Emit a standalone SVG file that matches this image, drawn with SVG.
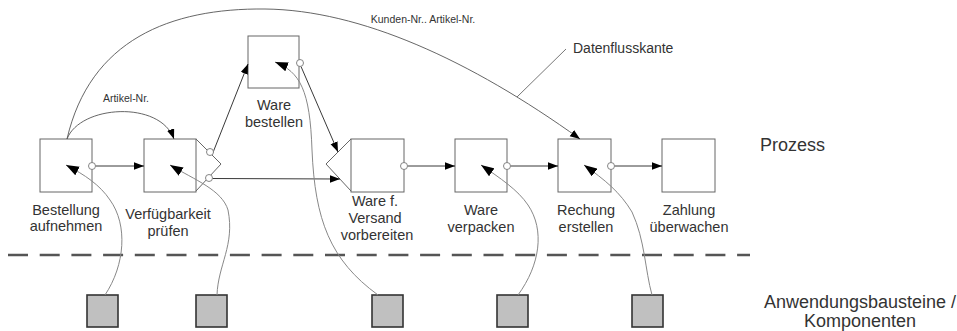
<svg xmlns="http://www.w3.org/2000/svg" width="957" height="331" viewBox="0 0 957 331">
<defs>
<marker id="ah" markerUnits="userSpaceOnUse" markerWidth="11" markerHeight="8" refX="10" refY="3.75" orient="auto">
<path d="M0,0 L10,3.75 L0,7.5 z" fill="#000"/>
</marker>
<marker id="ahBig" markerUnits="userSpaceOnUse" markerWidth="14" markerHeight="10" refX="13" refY="4.75" orient="auto">
<path d="M0,0 L13,4.75 L0,9.5 z" fill="#000"/>
</marker>
<style>
.box{fill:#fff;stroke:#666;stroke-width:1}
.comp{fill:#c0c0c0;stroke:#333;stroke-width:1.6}
.port{fill:#fff;stroke:#777;stroke-width:0.9}
.lbl{font-family:"Liberation Sans",Arial,sans-serif;font-size:14.5px;fill:#333;text-anchor:middle}
.big{font-family:"Liberation Sans",Arial,sans-serif;font-size:18px;fill:#333}
.small{font-family:"Liberation Sans",Arial,sans-serif;font-size:10.5px;fill:#333;text-anchor:middle}
.flow{fill:none;stroke:#222;stroke-width:0.9;marker-end:url(#ah)}
.arc{fill:none;stroke:#555;stroke-width:0.9;marker-end:url(#ah)}
.use{fill:none;stroke:#888;stroke-width:1;marker-end:url(#ahBig)}
</style>
</defs>
<rect width="957" height="331" fill="#fff"/>

<g id="labels">
<text class="small" x="126" y="102">Artikel-Nr.</text>
<text class="small" x="423" y="23">Kunden-Nr.. Artikel-Nr.</text>
<text x="573" y="53" font-family="Liberation Sans, Arial, sans-serif" font-size="14px" fill="#333">Datenflusskante</text>
<text class="big" x="760" y="151">Prozess</text>
<text class="big" x="860" y="308" text-anchor="middle">Anwendungsbausteine /</text>
<text class="big" x="860" y="327" text-anchor="middle">Komponenten</text>
</g>

<line id="separator" x1="8" y1="255" x2="750" y2="255" stroke="#555" stroke-width="2.5" stroke-dasharray="20 11.7"/>

<g id="bestellung-aufnehmen">
<rect class="box" x="40" y="139" width="52" height="53"/>
<text class="lbl" x="66" y="215">Bestellung</text>
<text class="lbl" x="66" y="231">aufnehmen</text>
</g>

<g id="verfuegbarkeit-pruefen">
<rect class="box" x="144" y="139" width="52" height="53"/>
<path d="M196,139 L221,164 L196,191" fill="none" stroke="#666" stroke-width="1"/>
<text class="lbl" x="168" y="219">Verfügbarkeit</text>
<text class="lbl" x="168" y="236">prüfen</text>
</g>

<g id="ware-bestellen">
<rect class="box" x="248" y="36" width="51" height="52"/>
<text class="lbl" x="274" y="110">Ware</text>
<text class="lbl" x="274" y="127">bestellen</text>
</g>

<g id="ware-versand-vorbereiten">
<rect class="box" x="351" y="139" width="53" height="53"/>
<path d="M351,139 L326,164 L351,191" fill="none" stroke="#666" stroke-width="1"/>
<text class="lbl" x="375" y="206">Ware f.</text>
<text class="lbl" x="375" y="223">Versand</text>
<text class="lbl" x="377" y="240">vorbereiten</text>
</g>

<g id="ware-verpacken">
<rect class="box" x="455" y="139" width="52" height="53"/>
<text class="lbl" x="481" y="215">Ware</text>
<text class="lbl" x="481" y="232">verpacken</text>
</g>

<g id="rechung-erstellen">
<rect class="box" x="558" y="139" width="53" height="53"/>
<text class="lbl" x="586" y="215">Rechung</text>
<text class="lbl" x="586" y="232">erstellen</text>
</g>

<g id="zahlung-ueberwachen">
<rect class="box" x="662" y="139" width="53" height="53"/>
<text class="lbl" x="689" y="215">Zahlung</text>
<text class="lbl" x="689" y="232">überwachen</text>
</g>

<g id="komponente-1"><rect class="comp" x="87" y="295" width="31" height="32"/></g>
<g id="komponente-2"><rect class="comp" x="196" y="295" width="31" height="32"/></g>
<g id="komponente-3"><rect class="comp" x="372" y="295" width="31" height="32"/></g>
<g id="komponente-4"><rect class="comp" x="497" y="295" width="31" height="32"/></g>
<g id="komponente-5"><rect class="comp" x="632" y="295" width="31" height="32"/></g>

<g id="connectors">
<path class="arc" d="M67,139 C90,40 170,8 265,9 C360,10 470,60 580,139"/>
<path class="arc" d="M67,139 C80,105 160,100 174,139"/>
<line x1="566" y1="49" x2="517" y2="97" stroke="#777" stroke-width="1"/>
<line class="flow" x1="95.5" y1="166" x2="144" y2="166"/>
<line class="flow" x1="212" y1="155" x2="248" y2="64"/>
<line class="flow" x1="212.5" y1="178.5" x2="340" y2="179"/>
<line class="flow" x1="301" y1="66.5" x2="338" y2="152"/>
<line class="flow" x1="407.5" y1="166" x2="455" y2="166"/>
<line class="flow" x1="510.5" y1="166" x2="558" y2="166"/>
<line class="flow" x1="614.5" y1="166" x2="662" y2="166"/>
<path class="use" d="M105,295 C125,265 128,225 110,200 C100,185 85,175 66,165"/>
<path class="use" d="M217,295 C218,265 235,245 228,210 C222,190 195,180 170,165"/>
<path class="use" d="M378,295 C330,260 315,220 312,150 C310,90 300,72 275,62"/>
<path class="use" d="M518,295 C540,265 545,230 528,205 C518,190 500,178 481,165"/>
<path class="use" d="M652,295 C645,270 645,240 632,212 C620,192 605,180 584,165"/>
<circle class="port" cx="92" cy="166" r="3.5"/>
<circle class="port" cx="210" cy="152" r="3.5"/>
<circle class="port" cx="209" cy="178" r="3.5"/>
<circle class="port" cx="300" cy="63" r="3.5"/>
<circle class="port" cx="404" cy="166" r="3.5"/>
<circle class="port" cx="507" cy="166" r="3.5"/>
<circle class="port" cx="611" cy="166" r="3.5"/>
</g>
</svg>
